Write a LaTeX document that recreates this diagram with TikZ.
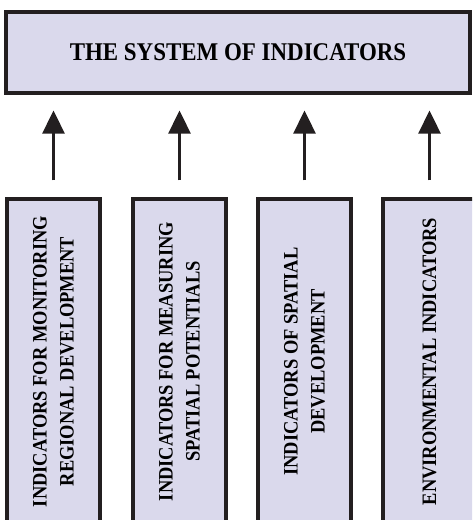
\documentclass[tikz,border=0pt]{standalone}
\usepackage{fontspec}
\setmainfont{Liberation Serif}
\newfontfamily\narrowserif[FakeStretch=0.9]{Liberation Serif}
\definecolor{lilac}{HTML}{DAD9EC}
\definecolor{ink}{HTML}{231F20}
\usetikzlibrary{arrows.meta,positioning}
\tikzset{
  box/.style={draw=ink,line width=3.2pt,fill=lilac,align=center,inner sep=0pt},
  headbox/.style={box,minimum width=464pt,minimum height=81pt,
              font=\narrowserif\bfseries\fontsize{25.5}{30}\selectfont},
  colbox/.style={box,rotate=90,minimum width=325pt,minimum height=93pt,
              font=\narrowserif\bfseries\fontsize{20.5}{27}\selectfont},
  arr/.style={-{Triangle[length=23pt,width=22pt]},line width=3pt,ink,
              shorten <=17pt,shorten >=16pt}
}

\begin{document}
\begin{tikzpicture}[x=1pt,y=1pt]
    \useasboundingbox (0,0) rectangle (472,520);
    \clip (0,0) rectangle (472,520);
    \node[headbox] (sys) at (238,467.5) {THE SYSTEM OF INDICATORS};
    \node[colbox] (c1) at (53.5,158.5)  {INDICATORS FOR MONITORING\\REGIONAL DEVELOPMENT};
    \node[colbox] (c2) at (179.5,158.5) {INDICATORS FOR MEASURING\\SPATIAL POTENTIALS};
    \node[colbox] (c3) at (304.5,158.5) {INDICATORS OF SPATIAL\\DEVELOPMENT};
    \node[colbox] (c4) at (429.5,158.5) {ENVIRONMENTAL INDICATORS};
    \foreach \c in {c1,c2,c3,c4}
      \draw[arr] (\c.east) -- (\c.east |- sys.south);
  \end{tikzpicture}
\end{document}
